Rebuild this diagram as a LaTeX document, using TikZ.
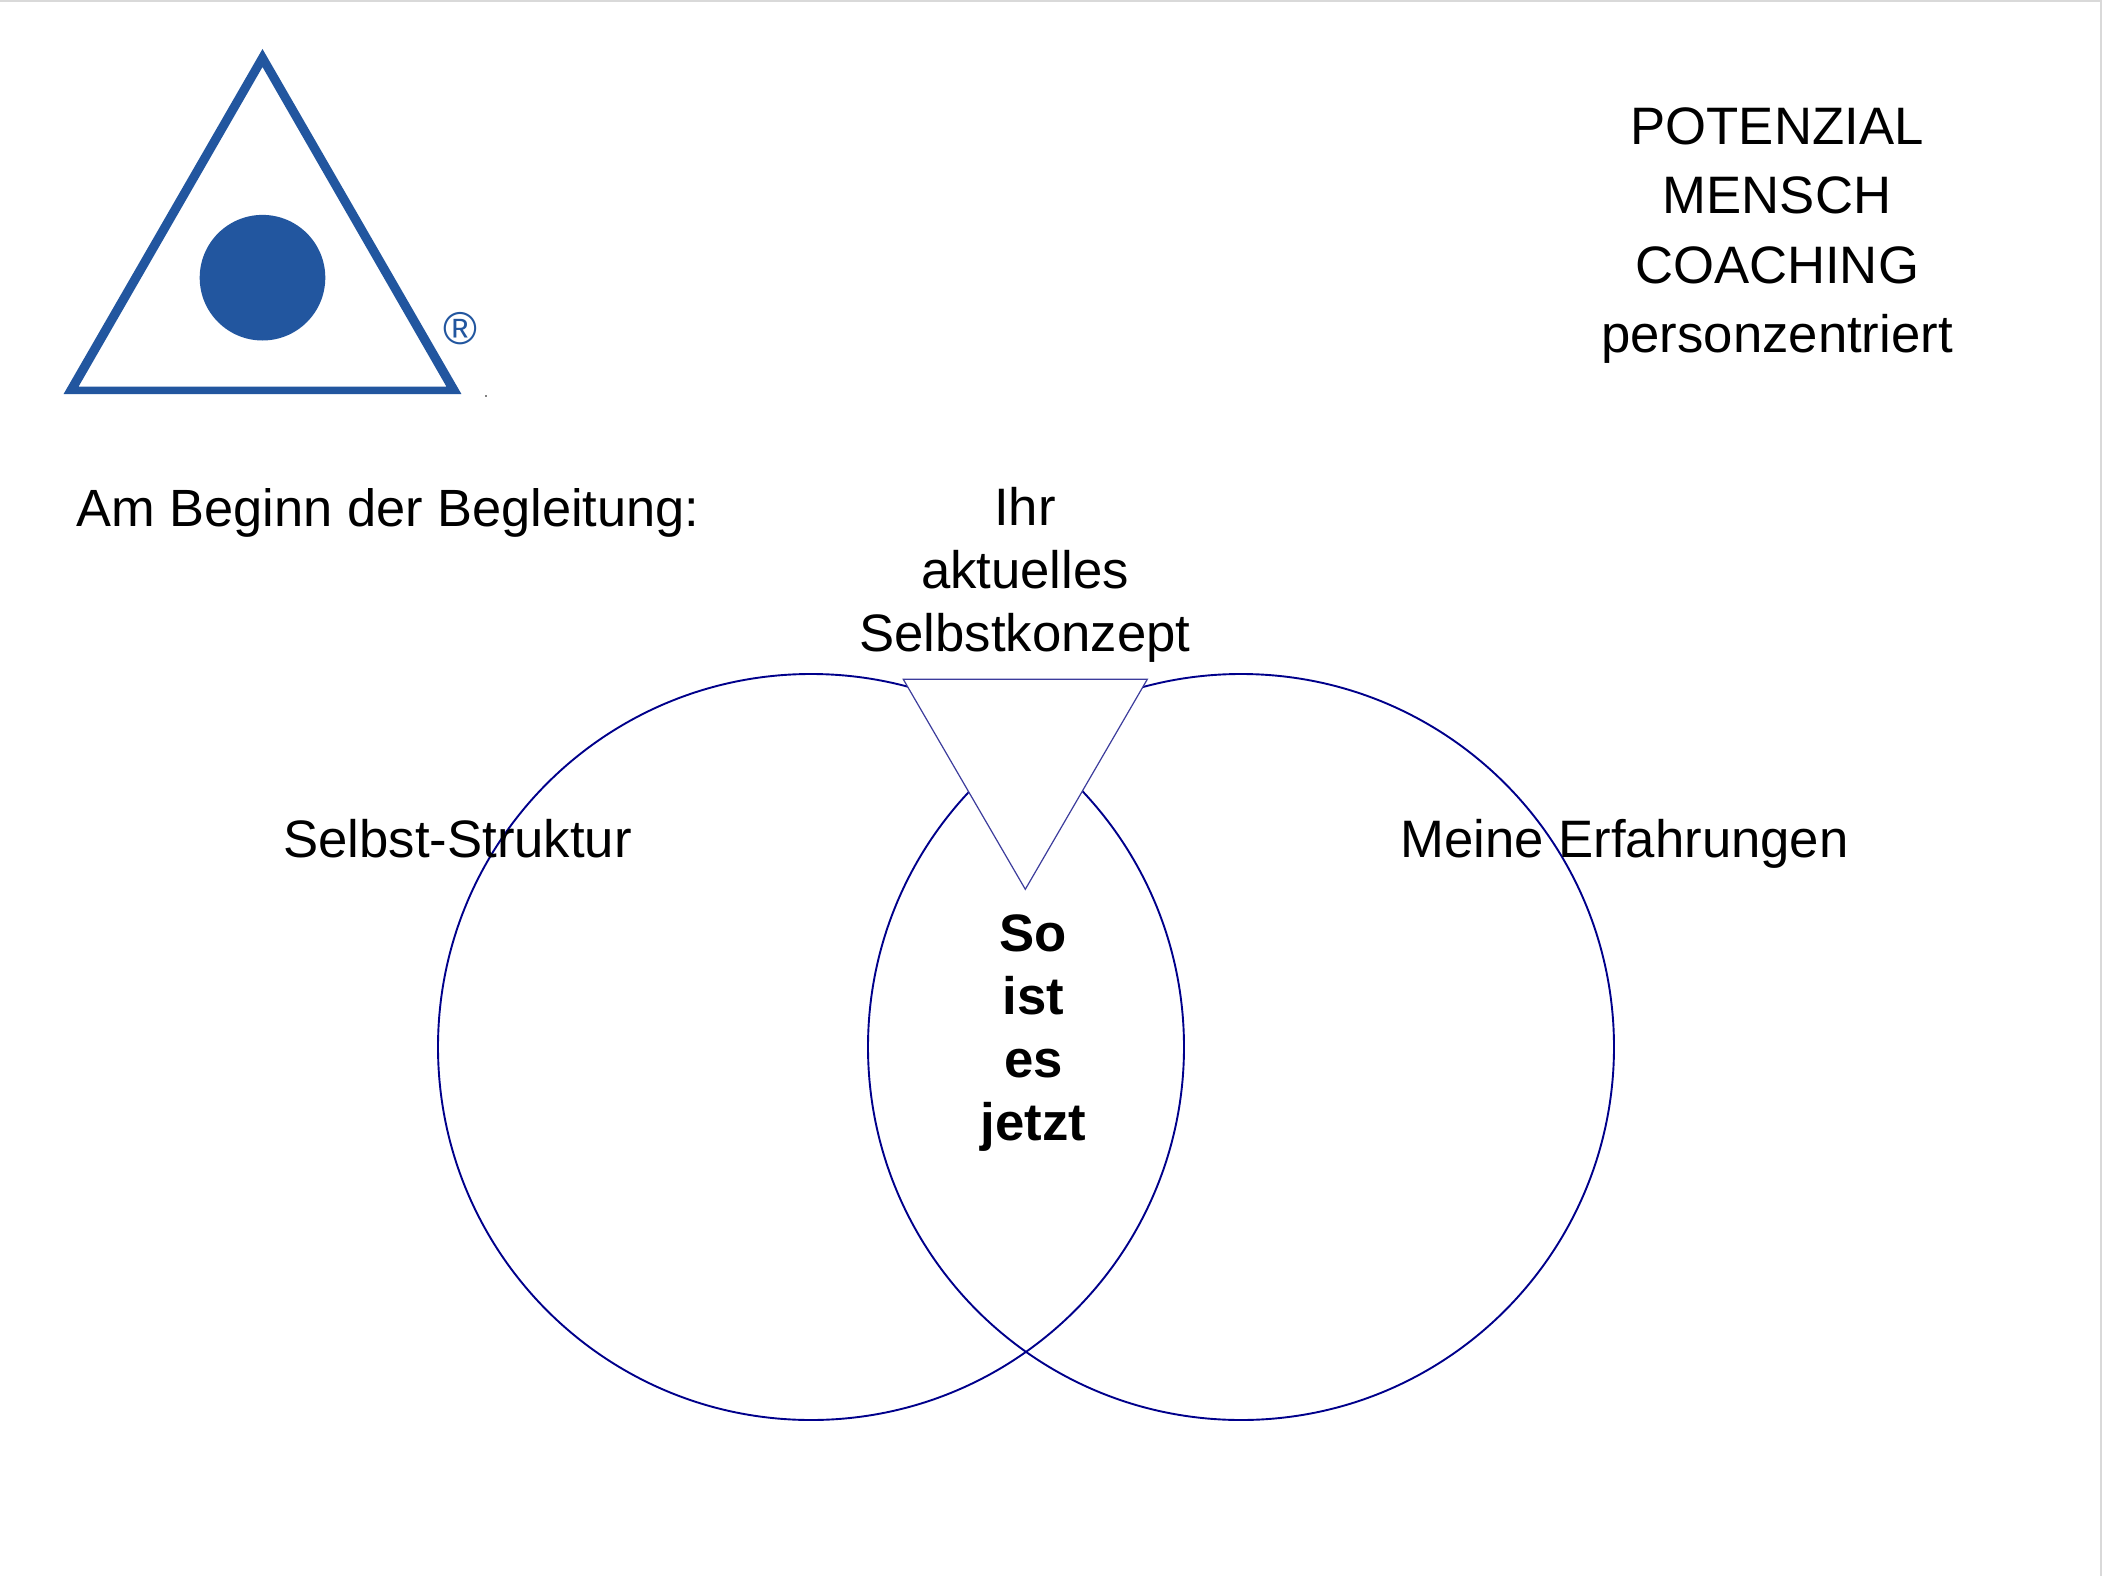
\documentclass[tikz,border=0pt]{standalone}
\usepackage{fontspec}
\setmainfont{Liberation Sans}
\definecolor{logoblue}{HTML}{22569F}
\definecolor{vennblue}{HTML}{00008B}
\definecolor{triblue}{HTML}{3C3C9C}
\definecolor{edgegrey}{HTML}{D9D9D9}
\tikzset{
  lbl/.style={font=\fontsize{52.7}{63}\selectfont,align=center,inner sep=0pt,text=black},
  lblhead/.style={font=\fontsize{52.7}{69.5}\selectfont,align=center,inner sep=0pt,text=black},
  lblbold/.style={font=\fontsize{52.7}{63}\selectfont\bfseries,align=center,inner sep=0pt,text=black},
  venn/.style={draw=vennblue,line width=1.9pt},
}
\begin{document}
\begin{tikzpicture}[x=1pt,y=-1pt]
\useasboundingbox (0,0) rectangle (2102,1576);
\fill[white] (0,0) rectangle (2102,1576);
\fill[edgegrey] (0,0) rectangle (2102,2);
\fill[edgegrey] (2100,0) rectangle (2102,1576);
% logo
\fill[logoblue,even odd rule] (262.5,49) -- (461.4,394) -- (63.6,394) -- cycle
  (262.5,67) -- (446.5,386.7) -- (78.5,386.7) -- cycle;
\fill[logoblue] (262.5,277.7) circle (62.8);
\node[inner sep=0pt,text=logoblue,font=\fontsize{46}{46}\selectfont] (reg) at (460.5,329) {®};
\fill[black] (486,396) circle (0.8);
% venn
\node[venn,circle,minimum size=746pt,inner sep=0pt] (left) at (811,1047) {};
\node[venn,circle,minimum size=746pt,inner sep=0pt] (right) at (1241,1047) {};
\draw[draw=triblue,line width=1.2pt,fill=white,line join=miter] (903.3,679.3) -- (1147.3,679.3) -- (1025.3,889.3) -- cycle;
% labels
\node[lblhead] (title) at (1777,235.5) {POTENZIAL\\MENSCH\\COACHING\\personzentriert};
\node[lbl,anchor=west,font=\fontsize{52.4}{63}\selectfont] (begin) at (76,513) {Am Beginn der Begleitung:};
\node[lbl] (konzept) at (1025,575) {Ihr\\aktuelles\\Selbstkonzept};
\node[lbl] (struktur) at (457.5,839) {Selbst-Struktur};
\node[lbl] (erfahrung) at (1624.5,843.5) {Meine Erfahrungen};
\node[lblbold] (soist) at (1033.5,1033.5) {So\\ist\\es\\jetzt};
\end{tikzpicture}
\end{document}
